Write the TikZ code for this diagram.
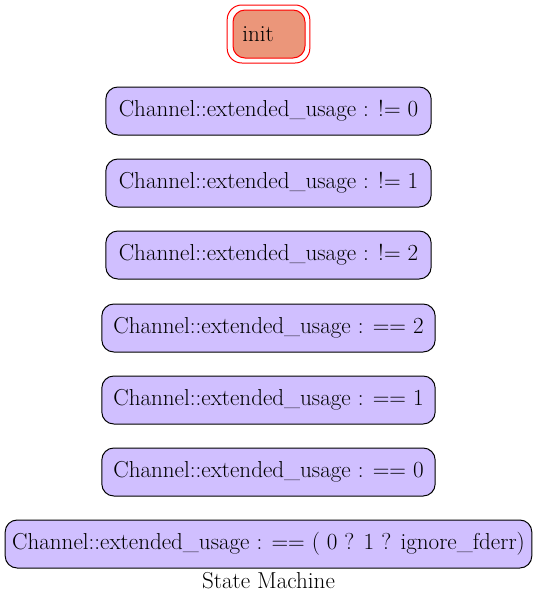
\documentclass[tikz,border=0pt]{standalone}
\usepackage{tikz}
\usetikzlibrary{positioning}
\definecolor{statefill}{HTML}{D0BFFF}
\definecolor{initfill}{HTML}{EB967A}
\tikzset{every node/.style={font=\fontsize{17.3}{19}\selectfont, inner sep=0pt},
  state/.style={draw=black, fill=statefill, rounded corners=9pt, minimum height=36pt, line width=0.75pt},
  initstate/.style={draw=red, fill=initfill, rounded corners=9pt, minimum height=36pt, minimum width=54pt, line width=0.75pt}}

\begin{document}
\begin{tikzpicture}[x=0.75pt,y=-0.75pt]
  \useasboundingbox (0,0) rectangle (537,604);
  \node[draw=red, line width=0.75pt, rounded corners=11pt, minimum width=62pt, minimum height=43.5pt] (initframe) at (268.5,34) {};
  \node[initstate, text width=40pt, align=left, inner xsep=7pt] (init) at (269,34) {init};
  \node[state, minimum width=244pt] (ne0) at (268.5,111) {Channel::extended\_usage : != 0};
  \node[state, minimum width=244pt] (ne1) at (268.5,183) {Channel::extended\_usage : != 1};
  \node[state, minimum width=244pt] (ne2) at (268.5,255) {Channel::extended\_usage : != 2};
  \node[state, minimum width=250pt] (eq2) at (268.5,328) {Channel::extended\_usage : == 2};
  \node[state, minimum width=250pt] (eq1) at (268.5,400) {Channel::extended\_usage : == 1};
  \node[state, minimum width=250pt] (eq0) at (268.5,472) {Channel::extended\_usage : == 0};
  \node[state, minimum width=395pt] (eqign) at (268.5,544) {Channel::extended\_usage : == ( 0 ? 1 ? ignore\_fderr)};
  \node (title) at (268.5,581) {State Machine};
\end{tikzpicture}
\end{document}
